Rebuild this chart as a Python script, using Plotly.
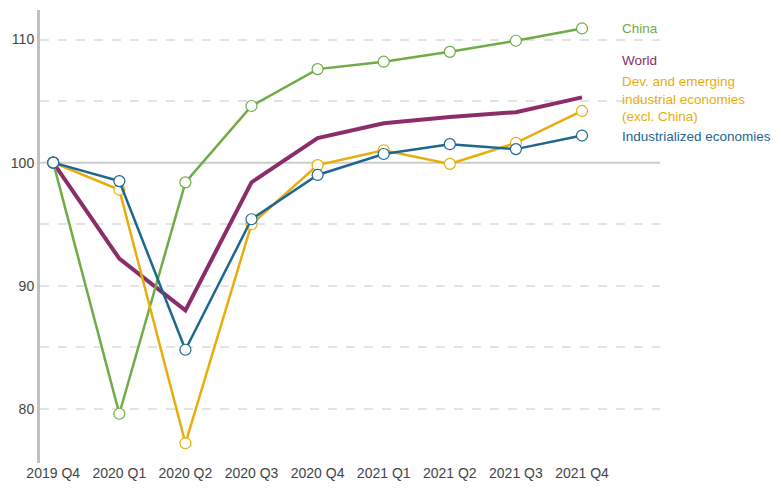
import plotly.graph_objects as go

quarters = ["2019 Q4", "2020 Q1", "2020 Q2", "2020 Q3", "2020 Q4", "2021 Q1", "2021 Q2", "2021 Q3", "2021 Q4"]
china = [100, 79.6, 98.4, 104.6, 107.6, 108.2, 109.0, 109.9, 110.9]
world = [100, 92.2, 88.0, 98.4, 102.0, 103.2, 103.7, 104.1, 105.3]
dev_emerging = [100, 97.8, 77.2, 95.0, 99.8, 101.0, 99.9, 101.6, 104.2]
industrialized = [100, 98.5, 84.8, 95.4, 99.0, 100.7, 101.5, 101.1, 102.2]

C_CHINA = "#6fab46"
C_WORLD = "#8c2d6b"
C_DEV = "#e8ad0c"
C_IND = "#1d6690"

x = list(range(len(quarters)))
fig = go.Figure()

def add(vals, color, width, markers=True):
    fig.add_trace(go.Scatter(
        x=x, y=vals, mode="lines+markers" if markers else "lines",
        line=dict(color=color, width=width),
        marker=dict(size=11, color="white", line=dict(color=color, width=1.2)),
        showlegend=False, cliponaxis=False))

add(world, C_WORLD, 4, markers=False)
add(china, C_CHINA, 2.5)
add(dev_emerging, C_DEV, 2.5)
add(industrialized, C_IND, 2.5)
fig.add_trace(go.Scatter(x=[0], y=[world[0]], mode="markers",
                         marker=dict(size=11, color="white", line=dict(color=C_IND, width=1.2)),
                         showlegend=False, cliponaxis=False))

fig.add_shape(type="line", xref="paper", yref="y", x0=0, x1=1, y0=100, y1=100,
              line=dict(color="#cccccc", width=2), layer="below")

labels = [("China", 110.9, C_CHINA), ("World", 108.3, C_WORLD),
          ("Dev. and emerging<br>industrial economies<br>(excl. China)", 105.15, C_DEV),
          ("Industrialized economies", 102.1, C_IND)]
for txt, yv, col in labels:
    fig.add_annotation(x=8.58, y=yv, xref="x", yref="y", text=txt, showarrow=False,
                       xanchor="left", yanchor="middle", align="left",
                       font=dict(color=col, size=13.5, family="Liberation Sans, Arial"))

fig.update_layout(
    width=781, height=493,
    margin=dict(l=40, r=121, t=10, b=30),
    plot_bgcolor="white", paper_bgcolor="white",
    font=dict(family="Liberation Sans, Arial", size=14, color="#444444"),
    xaxis=dict(tickvals=x, ticktext=quarters, range=[-0.2, 9.18], showgrid=False,
               zeroline=False, showline=False, ticks="", automargin=False,
               tickfont=dict(size=14)),
    yaxis=dict(range=[75.6, 112.4], tickvals=[80, 90, 100, 110], showgrid=False,
               zeroline=False, automargin=False, tickfont=dict(size=14),
               showline=True, linecolor="#c0c0c0", linewidth=3, ticks="",
               minor=dict(tickvals=[80, 85, 90, 95, 105, 110], showgrid=True, gridcolor="#e3e3e3",
                          griddash="dash", gridwidth=1.5)),
)
fig.write_html("out.html", config={"displayModeBar": False},
               post_script="document.body.style.margin='0';document.body.style.overflow='hidden';")
